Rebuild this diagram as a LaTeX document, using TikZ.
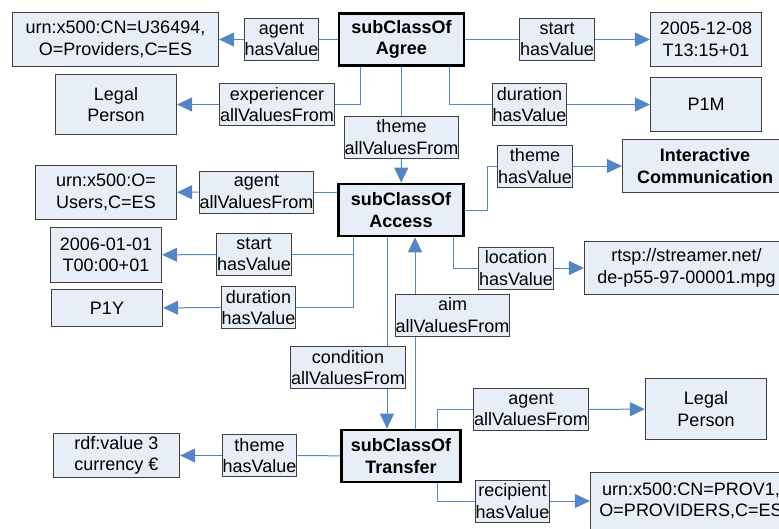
\documentclass[tikz,border=0pt]{standalone}
\usepackage{fontspec}
\setmainfont{Liberation Sans}
\usepackage{tikz}
\usetikzlibrary{arrows.meta,positioning,backgrounds}
\definecolor{boxfill}{HTML}{E8EEF8}
\definecolor{boxline}{HTML}{404040}
\definecolor{linkblue}{HTML}{5585C4}
\newcommand\dgfont{\fontsize{18}{21.5}\selectfont}

\begin{document}
\begin{tikzpicture}[
x=1pt,y=-1pt,
cls/.style={draw=black,line width=2.6pt,fill=boxfill,align=center,
font=\dgfont\bfseries,minimum width=125pt,minimum height=52pt},
val/.style={draw=boxline,line width=1.2pt,fill=boxfill,align=center,
font=\dgfont,inner sep=2pt},
lbl/.style={draw=boxline,line width=1pt,fill=boxfill,align=center,
font=\dgfont,inner xsep=0.5pt,inner ysep=0pt,minimum height=42pt},
link/.style={draw=linkblue,line width=1pt},
arr/.style={link,-{Triangle[length=15pt,width=14pt]}}
]
\useasboundingbox (0,0) rectangle (779,528);
\clip (0,0) rectangle (779,528);

% classes
\node[cls] (agr) at (401.5,39.5) {subClassOf\\Agree};
\node[cls] (acc) at (401,210)    {subClassOf\\Access};
\node[cls,minimum width=119pt] (trf) at (401,456) {subClassOf\\Transfer};

% values
\node[val,minimum width=206pt,minimum height=54pt] (urnP) at (115.5,39.5) {urn:x500:CN=U36494,\\O=Providers,C=ES};
\node[val,minimum width=121pt,minimum height=60pt] (legA) at (116,104.5) {Legal\\Person};
\node[val,minimum width=111pt,minimum height=54pt] (dtA) at (706,39.5) {2005-12-08\\T13:15+01};
\node[val,minimum width=111pt,minimum height=54pt] (pm) at (706,104.5) {P1M};
\node[val,minimum width=165pt,minimum height=53pt,font=\dgfont\bfseries] (inter) at (705,166) {Interactive\\Communication};
\node[val,minimum width=141pt,minimum height=54pt] (urnU) at (106,192.5) {urn:x500:O=\\Users,C=ES};
\node[val,minimum width=111pt,minimum height=55pt] (dtB) at (106,255) {2006-01-01\\T00:00+01};
\node[val,minimum width=111pt,minimum height=37pt] (py) at (107,308) {P1Y};
\node[val,minimum width=204pt,minimum height=53pt] (rtsp) at (686.5,268) {rtsp://streamer.net/\\de-p55-97-00001.mpg};
\node[val,minimum width=126pt,minimum height=44pt] (rdf) at (116.5,455.5) {rdf:value 3\\currency €};
\node[val,minimum width=121pt,minimum height=61pt] (legC) at (706,409) {Legal\\Person};
\node[val,minimum width=201pt,minimum height=57pt] (urnR) at (691,501) {urn:x500:CN=PROV1,\\O=PROVIDERS,C=ES};

% properties
\node[lbl] (lAgA)  at (281.5,39.5) {agent\\hasValue};
\node[lbl] (lExpA) at (277,104.5)  {experiencer\\allValuesFrom};
\node[lbl] (lStA)  at (557,39.5)   {start\\hasValue};
\node[lbl] (lDuA)  at (529.5,104.5) {duration\\hasValue};
\node[lbl] (lThA)  at (401.5,137)  {theme\\allValuesFrom};
\node[lbl] (lThB)  at (535,166)    {theme\\hasValue};
\node[lbl] (lAgB)  at (256.5,192)  {agent\\allValuesFrom};
\node[lbl] (lStB)  at (254,254.5)  {start\\hasValue};
\node[lbl] (lDuB)  at (258.5,307.5) {duration\\hasValue};
\node[lbl] (lLoB)  at (516,268)    {location\\hasValue};
\node[lbl] (lAim)  at (452.5,315)  {aim\\allValuesFrom};
\node[lbl] (lCond) at (348,367.5)  {condition\\allValuesFrom};
\node[lbl] (lThC)  at (259.5,455.5) {theme\\hasValue};
\node[lbl] (lAgC)  at (531,409.5)  {agent\\allValuesFrom};
\node[lbl] (lRcC)  at (512.5,501)  {recipient\\hasValue};

\begin{scope}[on background layer]
\foreach \a/\b in {agr/lAgA,agr/lStA,agr/lThA,trf/lThC} \draw[link] (\a) -- (\b);
\foreach \a/\b in {lAgA/urnP,lExpA/legA,lStA/dtA,lDuA/pm,lThA/acc,lThB/inter,
lAgB/urnU,lStB/dtB,lDuB/py,lLoB/rtsp,lThC/rdf,lAgC/legC,lRcC/urnR}
\draw[arr] (\a) -- (\b);
\draw[link] ([xshift=-41.5pt]agr.south) |- (lExpA.east);
\draw[link] ([xshift=47.5pt]agr.south) |- (lDuA.west);
\draw[link] (acc.east) -- ++(23,0) |- (lThB.west);
\draw[link] (lAgB.east) -- (lAgB -| acc.west);
\draw[link] ([xshift=-48pt]acc.south) |- (lStB.east);
\draw[link] ([xshift=-48pt]acc.south) |- (lDuB.east);
\draw[link] ([xshift=52pt]acc.south) |- (lLoB.west);
\draw[arr] ([xshift=-14pt]acc.south) -- ([xshift=-14pt]trf.north);
\draw[arr] ([xshift=14pt]trf.north) -- ([xshift=14pt]acc.south);
\draw[link] ([xshift=36pt]trf.north) |- (lAgC.west);
\draw[link] ([xshift=36pt]trf.south) |- (lRcC.west);
\end{scope}
\end{tikzpicture}
\end{document}
